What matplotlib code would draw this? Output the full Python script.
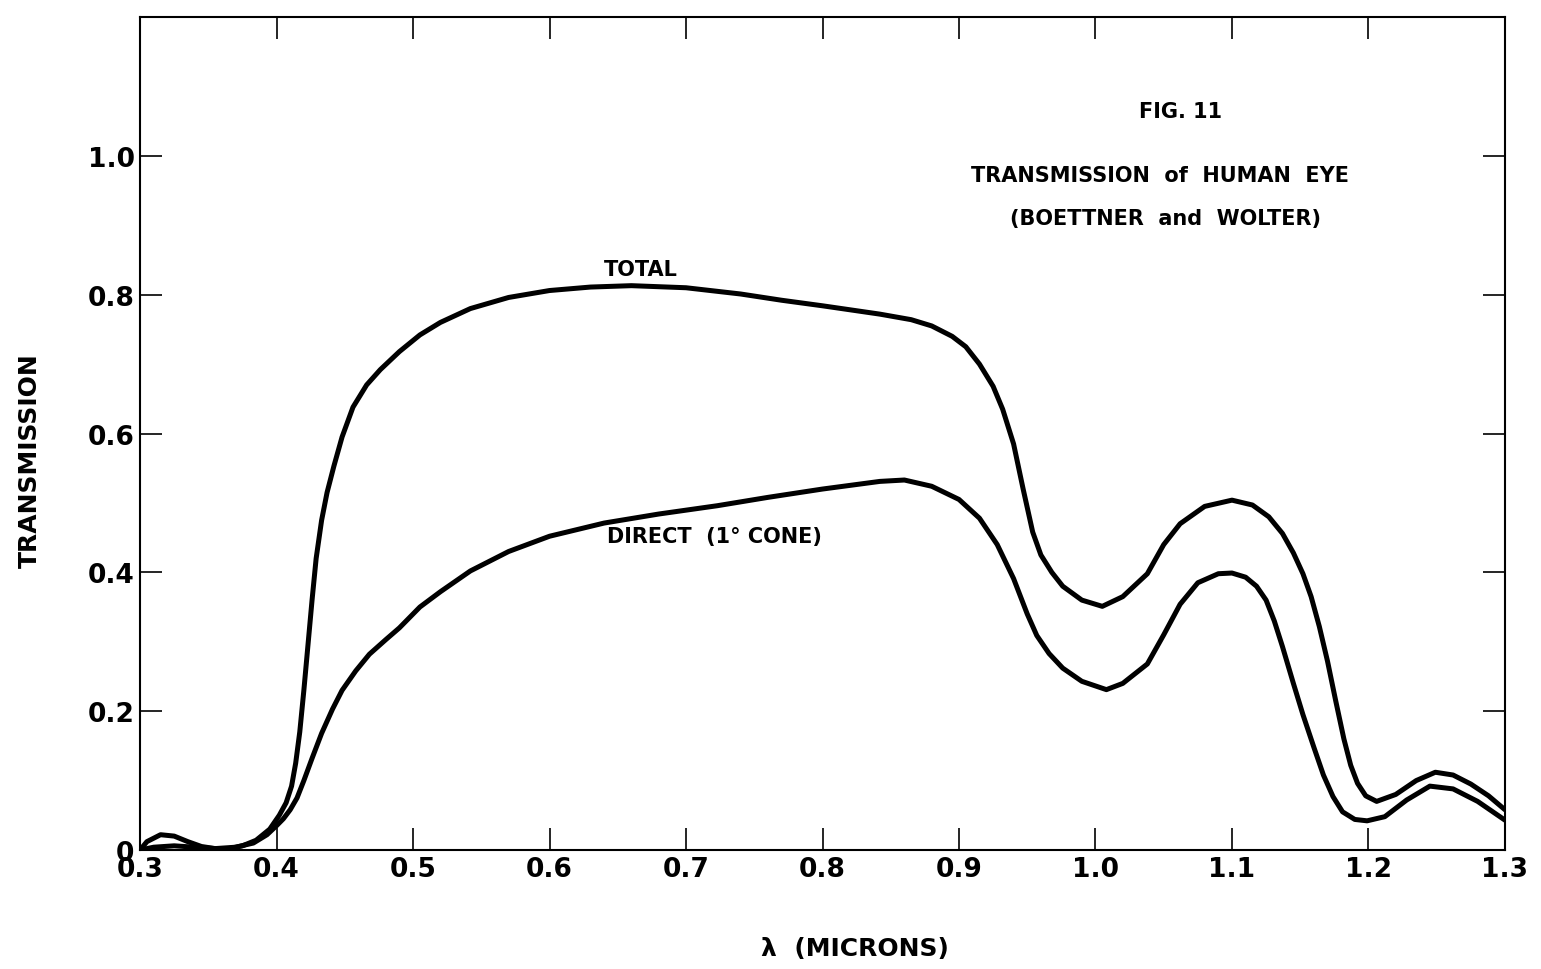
import numpy as np
import matplotlib
matplotlib.use("Agg")
import matplotlib.pyplot as plt

# Boettner & Wolter: transmission of the human eye vs wavelength (microns)
total_x = [0.300, 0.305, 0.315, 0.325, 0.335, 0.345, 0.355, 0.365, 0.375, 0.385,
           0.395, 0.402, 0.407, 0.411, 0.414, 0.417, 0.420, 0.423, 0.426, 0.429,
           0.433, 0.437, 0.442, 0.448, 0.456, 0.466, 0.476, 0.490, 0.505, 0.520,
           0.542, 0.570, 0.600, 0.630, 0.660, 0.700, 0.740, 0.770, 0.800, 0.842,
           0.865, 0.880, 0.895, 0.905, 0.915, 0.925, 0.932, 0.940, 0.947, 0.954,
           0.960, 0.968, 0.976, 0.990, 1.005, 1.020, 1.038, 1.050, 1.062, 1.080,
           1.100, 1.115, 1.127, 1.137, 1.145, 1.152, 1.158, 1.164, 1.170, 1.176,
           1.182, 1.187, 1.192, 1.198, 1.206, 1.220, 1.235, 1.249, 1.262, 1.275,
           1.288, 1.300]
total_y = [0.000, 0.012, 0.022, 0.020, 0.012, 0.005, 0.002, 0.002, 0.006, 0.014,
           0.030, 0.050, 0.068, 0.092, 0.125, 0.170, 0.230, 0.295, 0.360, 0.420,
           0.475, 0.515, 0.553, 0.595, 0.638, 0.670, 0.692, 0.718, 0.742, 0.760,
           0.780, 0.796, 0.806, 0.811, 0.813, 0.810, 0.801, 0.792, 0.784, 0.772,
           0.764, 0.755, 0.740, 0.725, 0.700, 0.668, 0.635, 0.585, 0.520, 0.458,
           0.425, 0.400, 0.380, 0.360, 0.351, 0.365, 0.398, 0.440, 0.470, 0.495,
           0.504, 0.497, 0.480, 0.456, 0.428, 0.398, 0.365, 0.322, 0.272, 0.215,
           0.160, 0.122, 0.096, 0.078, 0.070, 0.080, 0.100, 0.112, 0.108, 0.095,
           0.078, 0.058]

direct_x = [0.300, 0.310, 0.325, 0.340, 0.355, 0.370, 0.383, 0.393, 0.400, 0.405,
            0.410, 0.415, 0.420, 0.426, 0.433, 0.441, 0.448, 0.458, 0.468, 0.480,
            0.490, 0.505, 0.520, 0.542, 0.570, 0.600, 0.640, 0.680, 0.723, 0.760,
            0.800, 0.842, 0.860, 0.880, 0.900, 0.915, 0.928, 0.940, 0.950, 0.957,
            0.966, 0.976, 0.990, 1.008, 1.020, 1.038, 1.050, 1.062, 1.075, 1.090,
            1.100, 1.110, 1.118, 1.125, 1.131, 1.137, 1.145, 1.152, 1.160, 1.167,
            1.174, 1.181, 1.190, 1.199, 1.212, 1.228, 1.245, 1.262, 1.280, 1.300]
direct_y = [0.000, 0.004, 0.006, 0.004, 0.002, 0.004, 0.010, 0.022, 0.035, 0.045,
            0.058, 0.075, 0.100, 0.132, 0.168, 0.203, 0.230, 0.258, 0.282, 0.303,
            0.320, 0.350, 0.372, 0.402, 0.430, 0.452, 0.471, 0.484, 0.496, 0.508,
            0.520, 0.531, 0.533, 0.524, 0.505, 0.478, 0.440, 0.391, 0.340, 0.309,
            0.283, 0.262, 0.243, 0.231, 0.240, 0.268, 0.310, 0.354, 0.385, 0.398,
            0.399, 0.393, 0.380, 0.360, 0.330, 0.293, 0.240, 0.195, 0.148, 0.108,
            0.077, 0.055, 0.044, 0.042, 0.048, 0.072, 0.092, 0.088, 0.070, 0.043]

x_ticks = [0.3, 0.4, 0.5, 0.6, 0.7, 0.8, 0.9, 1.0, 1.1, 1.2, 1.3]
x_labels = ["0.3", "0.4", "0.5", "0.6", "0.7", "0.8", "0.9", "1.0", "1.1", "1.2", "1.3"]
y_ticks = [0, 0.2, 0.4, 0.6, 0.8, 1.0]
y_labels = ["0", "0.2", "0.4", "0.6", "0.8", "1.0"]

plt.rcParams['font.family'] = ['DejaVu Sans']
plt.rcParams['font.weight'] = 'bold'

fig = plt.figure(figsize=(15.41, 9.70), dpi=100)
ax = fig.add_axes([0.0909, 0.1227, 0.8857, 0.8587])

ax.plot(total_x, total_y, color='black', lw=3.6, solid_joinstyle='round', solid_capstyle='round')
ax.plot(direct_x, direct_y, color='black', lw=3.6, solid_joinstyle='round', solid_capstyle='round')

ax.set_xlim(0.3, 1.3)
ax.set_ylim(0, 1.2)
ax.set_xticks(x_ticks)
ax.set_xticklabels(x_labels)
ax.set_yticks(y_ticks)
ax.set_yticklabels(y_labels)
ax.tick_params(direction='in', length=16, width=1.2, top=True, right=True,
               labelsize=19, pad=4)
for s in ax.spines.values():
    s.set_linewidth(1.5)

ax.set_xlabel("λ  (MICRONS)", fontsize=18, fontweight='bold')
ax.set_ylabel("TRANSMISSION", fontsize=18, fontweight='bold')
ax.xaxis.set_label_coords(0.524, -0.103)
ax.yaxis.set_label_coords(-0.0718, 0.469)

ax.text(0.367, 0.697, "TOTAL", transform=ax.transAxes, ha='center', va='center', fontsize=15)
ax.text(0.421, 0.377, "DIRECT  (1° CONE)", transform=ax.transAxes, ha='center', va='center', fontsize=15)

ax.text(0.762, 0.887, "FIG. 11", transform=ax.transAxes, ha='center', va='center', fontsize=15)
ax.text(0.747, 0.810, "TRANSMISSION  of  HUMAN  EYE", transform=ax.transAxes,
        ha='center', va='center', fontsize=15)
ax.text(0.751, 0.759, "(BOETTNER  and  WOLTER)", transform=ax.transAxes,
        ha='center', va='center', fontsize=15)

plt.savefig("out.png", dpi=100)
